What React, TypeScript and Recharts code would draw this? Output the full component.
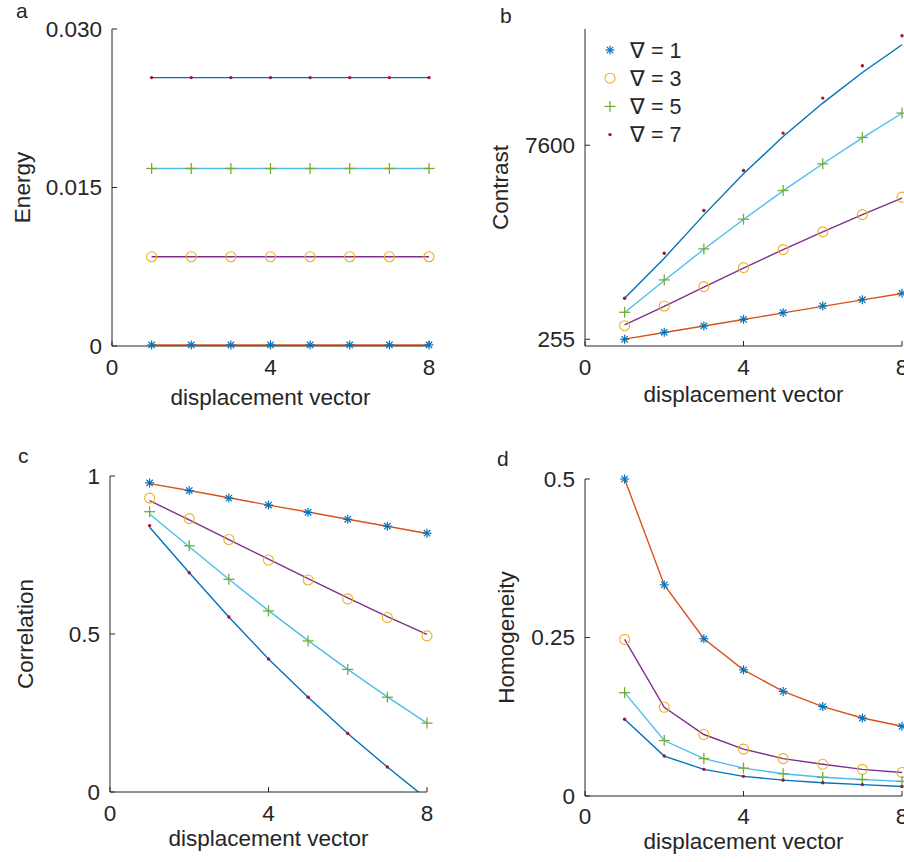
import React from "react";
import { ComposedChart, Line, XAxis, YAxis, Legend } from "recharts";

const FONT = '"Liberation Sans", Arial, Helvetica, sans-serif';
const INK = "#262626";
const BLUE = "#0072BD";
const ORANGE = "#D95319";
const YELLOW = "#EDB120";
const PURPLE = "#7E2F8E";
const GREEN = "#77AC30";
const CYAN = "#4DBEEE";
const WINE = "#A2142F";
const FS = 22.5;

const displacement = [1, 2, 3, 4, 5, 6, 7, 8];
const xTicks = [0, 4, 8];

// (a) Energy
const energy1 = [0.0001, 0.0001, 0.0001, 0.0001, 0.0001, 0.0001, 0.0001, 0.0001];
const energy3 = [0.00845, 0.00845, 0.00845, 0.00845, 0.00845, 0.00845, 0.00845, 0.00845];
const energy5 = [0.0168, 0.0168, 0.0168, 0.0168, 0.0168, 0.0168, 0.0168, 0.0168];
const energy7 = [0.0254, 0.0254, 0.0254, 0.0254, 0.0254, 0.0254, 0.0254, 0.0254];
const energyTicks = [0, 0.015, 0.03];

// (b) Contrast: markers and fitted lines
const contrast1 = [255, 519, 758, 1011, 1262, 1516, 1754, 1997];
const contrast3 = [769, 1516, 2247, 2967, 3649, 4319, 4975, 5634];
const contrast5 = [1277, 2501, 3675, 4800, 5885, 6896, 7893, 8817];
const contrast7 = [1807, 3512, 5127, 6642, 8059, 9385, 10609, 11746];
const contrastFit1 = [262, 510, 756, 1004, 1252, 1500, 1745, 1985];
const contrastFit3 = [796, 1500, 2230, 2950, 3650, 4320, 4970, 5600];
const contrastFit5 = [1270, 2480, 3660, 4790, 5870, 6900, 7880, 8810];
const contrastFit7 = [1807, 3323, 4964, 6517, 7930, 9196, 10355, 11405];
const contrastTicks = [255, 7600];

// (c) Correlation
const corr1 = [0.978, 0.954, 0.93, 0.908, 0.885, 0.863, 0.841, 0.819];
const corr3 = [0.93, 0.865, 0.799, 0.734, 0.671, 0.611, 0.552, 0.494];
const corr5 = [0.887, 0.779, 0.673, 0.573, 0.478, 0.388, 0.3, 0.218];
const corr7 = [0.843, 0.694, 0.554, 0.421, 0.3, 0.185, 0.079, -0.03];
const corrFit1 = [0.976, 0.954, 0.931, 0.908, 0.886, 0.863, 0.841, 0.818];
const corrFit3 = [0.922, 0.861, 0.799, 0.737, 0.675, 0.614, 0.555, 0.499];
const corrFit5 = [0.88, 0.776, 0.673, 0.574, 0.479, 0.388, 0.301, 0.218];
const corrFit7 = [0.838, 0.694, 0.554, 0.421, 0.3, 0.185, 0.079, -0.022];
const corrTicks = [0, 0.5, 1];

// (d) Homogeneity
const homog1 = [0.5, 0.333, 0.248, 0.199, 0.165, 0.141, 0.123, 0.11];
const homog3 = [0.247, 0.14, 0.097, 0.074, 0.059, 0.05, 0.042, 0.037];
const homog5 = [0.163, 0.0875, 0.059, 0.044, 0.035, 0.0295, 0.026, 0.023];
const homog7 = [0.121, 0.063, 0.042, 0.031, 0.025, 0.021, 0.018, 0.015];
const homogTicks = [0, 0.25, 0.5];

const legendLabels = ["∇ = 1", "∇ = 3", "∇ = 5", "∇ = 7"];

const makeRows = (m: number[][], f: number[][]) =>
  displacement.map((x, i) => ({
    x,
    m1: m[0][i], m3: m[1][i], m5: m[2][i], m7: m[3][i],
    f1: f[0][i], f3: f[1][i], f5: f[2][i], f7: f[3][i],
  }));

const drawMarker = (kind: number, cx: number, cy: number, key?: string | number) => {
  if (kind === 0) {
    const r = 4.5, d = 3.2;
    return (
      <g key={key} stroke={BLUE} strokeWidth={1.2}>
        <line x1={cx - r} y1={cy} x2={cx + r} y2={cy} />
        <line x1={cx} y1={cy - r} x2={cx} y2={cy + r} />
        <line x1={cx - d} y1={cy - d} x2={cx + d} y2={cy + d} />
        <line x1={cx - d} y1={cy + d} x2={cx + d} y2={cy - d} />
      </g>
    );
  }
  if (kind === 1) return <circle key={key} cx={cx} cy={cy} r={5} fill="none" stroke={YELLOW} strokeWidth={1.1} />;
  if (kind === 2) {
    const r = 5.5;
    return (
      <g key={key} stroke={GREEN} strokeWidth={1.3}>
        <line x1={cx - r} y1={cy} x2={cx + r} y2={cy} />
        <line x1={cx} y1={cy - r} x2={cx} y2={cy + r} />
      </g>
    );
  }
  return <circle key={key} cx={cx} cy={cy} r={1.7} fill={WINE} />;
};

const markerDot = (kind: number) => (p: any) => {
  if (p.cx == null || p.cy == null) return <g key={`e${kind}-${p.index}`} />;
  return drawMarker(kind, p.cx, p.cy, `m${kind}-${p.index}`);
};

const renderLegend = () => (
  <svg width={110} height={120} style={{ display: "block" }}>
    {legendLabels.map((label, i) => (
      <g key={label}>
        {drawMarker(i, 10, 14 + i * 28.2)}
        <text x={30} y={14 + i * 28.2} dy="0.36em" fontSize={21.5} fill={INK} fontFamily={FONT}>
          {label}
        </text>
      </g>
    ))}
  </svg>
);

type PanelProps = {
  left: number;
  top: number;
  width: number;
  height: number;
  margin: { top: number; right: number; bottom: number; left: number };
  yWidth: number;
  rows: any[];
  yDomain: [number, number];
  yTicks: number[];
  yFmt: (v: number) => string;
  yLabel: string;
  yLabelOffset: number;
  xLabelOffset: number;
  xTickMargin: number;
  legend?: boolean;
  clip?: boolean;
};

const tickStyle = { fill: INK, fontSize: FS, fontFamily: FONT };
const lineColors = [ORANGE, PURPLE, CYAN, BLUE];
const keys = ["1", "3", "5", "7"];

const Panel = (p: PanelProps) => (
  <div style={{ position: "absolute", left: p.left, top: p.top }}>
    <ComposedChart width={p.width} height={p.height} data={p.rows} margin={p.margin}>
      <XAxis
        dataKey="x"
        type="number"
        domain={[0, 8]}
        ticks={xTicks}
        interval={0}
        height={60}
        stroke={INK}
        tickSize={-5}
        tickMargin={p.xTickMargin}
        tick={tickStyle}
        label={{ value: "displacement vector", position: "insideBottom", offset: p.xLabelOffset, fill: INK, fontSize: FS, fontFamily: FONT }}
      />
      <XAxis xAxisId="top" orientation="top" type="number" domain={[0, 8]} ticks={xTicks} height={0} stroke={INK} tickSize={-5} tick={false} />
      <YAxis
        type="number"
        domain={p.yDomain}
        ticks={p.yTicks}
        interval={0}
        width={p.yWidth}
        stroke={INK}
        tickSize={-5}
        tickMargin={15}
        tick={tickStyle}
        tickFormatter={p.yFmt}
        allowDataOverflow={!!p.clip}
        label={{ value: p.yLabel, angle: -90, position: "insideLeft", offset: p.yLabelOffset, fill: INK, fontSize: FS, fontFamily: FONT, style: { textAnchor: "middle" } }}
      />
      <YAxis yAxisId="right" orientation="right" type="number" domain={p.yDomain} ticks={p.yTicks} width={0} stroke={INK} tickSize={-5} tick={false} />
      {keys.map((k, i) => (
        <Line key={`f${k}`} dataKey={`f${k}`} type="linear" stroke={lineColors[i]} strokeWidth={1.4} dot={false} activeDot={false} isAnimationActive={false} legendType="none" />
      ))}
      {keys.map((k, i) => (
        <Line key={`m${k}`} dataKey={`m${k}`} stroke="none" dot={markerDot(i)} activeDot={false} isAnimationActive={false} legendType="none" />
      ))}
      {p.legend && (
        <Legend layout="vertical" align="center" verticalAlign="middle" content={renderLegend} wrapperStyle={{ left: 150, top: 36, width: 110, height: 120 }} />
      )}
    </ComposedChart>
  </div>
);

const energyRows = makeRows([energy1, energy3, energy5, energy7], [energy1, energy3, energy5, energy7]);
const contrastRows = makeRows([contrast1, contrast3, contrast5, contrast7], [contrastFit1, contrastFit3, contrastFit5, contrastFit7]);
const corrRows = makeRows([corr1, corr3, corr5, corr7], [corrFit1, corrFit3, corrFit5, corrFit7]);
const homogRows = makeRows([homog1, homog3, homog5, homog7], [homog1, homog3, homog5, homog7]);

export default function App() {
  return (
    <div style={{ position: "absolute", left: 0, top: 0, width: 904, height: 862, background: "#fff", fontFamily: FONT, overflow: "hidden" }}>
      <Panel
        left={0} top={0} width={450} height={430}
        margin={{ top: 29, right: 21, bottom: 24, left: 0 }}
        yWidth={112}
        rows={energyRows}
        yDomain={[0, 0.03]}
        yTicks={energyTicks}
        yFmt={(v) => (v === 0 ? "0" : v.toFixed(3))}
        yLabel="Energy"
        yLabelOffset={22}
        xLabelOffset={1}
        xTickMargin={18}
      />
      <Panel
        left={450} top={0} width={454} height={430}
        margin={{ top: 29, right: 2, bottom: 24, left: 0 }}
        yWidth={135}
        rows={contrastRows}
        yDomain={[0, 12000]}
        yTicks={contrastTicks}
        yFmt={(v) => String(v)}
        yLabel="Contrast"
        yLabelOffset={50}
        xLabelOffset={4}
        xTickMargin={18}
        legend
      />
      <Panel
        left={0} top={430} width={450} height={432}
        margin={{ top: 46, right: 23, bottom: 10, left: 0 }}
        yWidth={110}
        rows={corrRows}
        yDomain={[0, 1]}
        yTicks={corrTicks}
        yFmt={(v) => String(v)}
        yLabel="Correlation"
        yLabelOffset={25}
        xLabelOffset={6}
        xTickMargin={18}
        clip
      />
      <Panel
        left={450} top={430} width={454} height={432}
        margin={{ top: 49, right: 2, bottom: 6, left: 0 }}
        yWidth={135}
        rows={homogRows}
        yDomain={[0, 0.5]}
        yTicks={homogTicks}
        yFmt={(v) => String(v)}
        yLabel="Homogeneity"
        yLabelOffset={56}
        xLabelOffset={7}
        xTickMargin={17}
      />
      <svg width={904} height={862} style={{ position: "absolute", left: 0, top: 0, pointerEvents: "none" }}>
        <g fontSize={21} fill={INK} fontFamily={FONT}>
          <text x={16} y={18}>a</text>
          <text x={500} y={23}>b</text>
          <text x={18} y={463}>c</text>
          <text x={497} y={466}>d</text>
        </g>
      </svg>
    </div>
  );
}
